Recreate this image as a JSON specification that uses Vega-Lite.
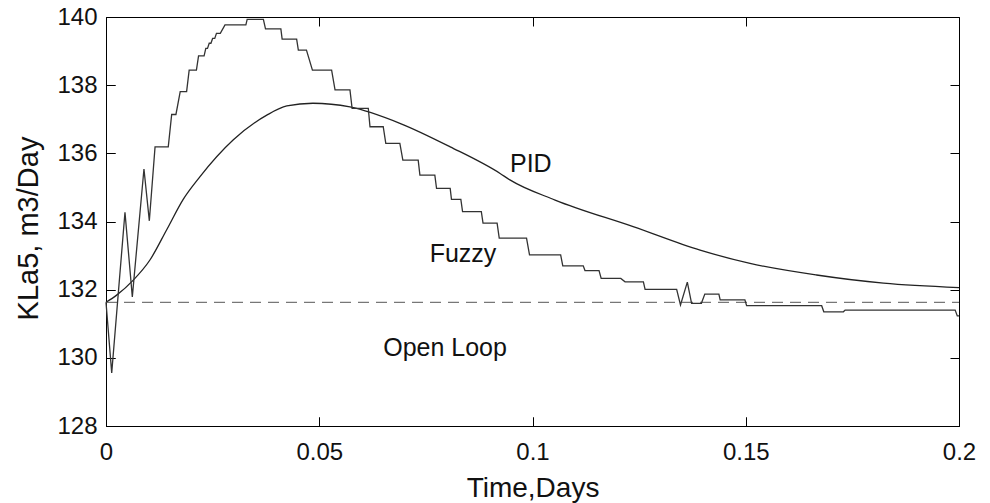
{
  "$schema": "https://vega.github.io/schema/vega-lite/v6.json",
  "width": 853,
  "height": 409,
  "autosize": {"type": "none"},
  "padding": {"left": 106, "top": 17, "right": 31, "bottom": 77},
  "background": "white",
  "config": {
    "view": {"stroke": "black", "strokeWidth": 1},
    "font": "Liberation Sans",
    "axis": {
      "grid": false,
      "domain": false,
      "labelFlush": false,
      "labelFont": "Liberation Sans",
      "labelFontSize": 24,
      "labelColor": "#111",
      "titleFont": "Liberation Sans",
      "titleFontWeight": "normal",
      "titleColor": "#111"
    }
  },
  "data": {
    "values": [
      {"series": "PID", "t": 0, "v": 131.63},
      {"series": "PID", "t": 0.0025, "v": 131.84},
      {"series": "PID", "t": 0.0064, "v": 132.28},
      {"series": "PID", "t": 0.0103, "v": 132.87},
      {"series": "PID", "t": 0.0142, "v": 133.75},
      {"series": "PID", "t": 0.0181, "v": 134.65},
      {"series": "PID", "t": 0.022, "v": 135.31},
      {"series": "PID", "t": 0.0298, "v": 136.39},
      {"series": "PID", "t": 0.0377, "v": 137.12},
      {"series": "PID", "t": 0.0424, "v": 137.39},
      {"series": "PID", "t": 0.0485, "v": 137.47},
      {"series": "PID", "t": 0.0572, "v": 137.36},
      {"series": "PID", "t": 0.0689, "v": 136.88},
      {"series": "PID", "t": 0.0807, "v": 136.19},
      {"series": "PID", "t": 0.0924, "v": 135.41},
      {"series": "PID", "t": 0.0947, "v": 135.22},
      {"series": "PID", "t": 0.1053, "v": 134.63},
      {"series": "PID", "t": 0.1236, "v": 133.85},
      {"series": "PID", "t": 0.1393, "v": 133.16},
      {"series": "PID", "t": 0.151, "v": 132.77},
      {"series": "PID", "t": 0.1666, "v": 132.43},
      {"series": "PID", "t": 0.1823, "v": 132.19},
      {"series": "PID", "t": 0.2, "v": 132.06},
      {"series": "Open Loop", "t": 0, "v": 131.63},
      {"series": "Open Loop", "t": 0.2, "v": 131.63},
      {"series": "Fuzzy", "t": 0, "v": 131.63},
      {"series": "Fuzzy", "t": 0.00134, "v": 129.56},
      {"series": "Fuzzy", "t": 0.00445, "v": 134.27},
      {"series": "Fuzzy", "t": 0.00617, "v": 131.79},
      {"series": "Fuzzy", "t": 0.0089, "v": 135.54},
      {"series": "Fuzzy", "t": 0.01016, "v": 134.02},
      {"series": "Fuzzy", "t": 0.0115, "v": 136.19},
      {"series": "Fuzzy", "t": 0.0146, "v": 136.19},
      {"series": "Fuzzy", "t": 0.0154, "v": 137.14},
      {"series": "Fuzzy", "t": 0.0164, "v": 137.14},
      {"series": "Fuzzy", "t": 0.0174, "v": 137.81},
      {"series": "Fuzzy", "t": 0.0189, "v": 137.81},
      {"series": "Fuzzy", "t": 0.0195, "v": 138.44},
      {"series": "Fuzzy", "t": 0.0212, "v": 138.44},
      {"series": "Fuzzy", "t": 0.0217, "v": 138.86},
      {"series": "Fuzzy", "t": 0.023, "v": 138.86},
      {"series": "Fuzzy", "t": 0.0234, "v": 139.08},
      {"series": "Fuzzy", "t": 0.0238, "v": 139.08},
      {"series": "Fuzzy", "t": 0.0242, "v": 139.23},
      {"series": "Fuzzy", "t": 0.0246, "v": 139.23},
      {"series": "Fuzzy", "t": 0.025, "v": 139.37},
      {"series": "Fuzzy", "t": 0.0255, "v": 139.37},
      {"series": "Fuzzy", "t": 0.0259, "v": 139.52},
      {"series": "Fuzzy", "t": 0.0268, "v": 139.52},
      {"series": "Fuzzy", "t": 0.0279, "v": 139.77},
      {"series": "Fuzzy", "t": 0.0328, "v": 139.77},
      {"series": "Fuzzy", "t": 0.0331, "v": 139.93},
      {"series": "Fuzzy", "t": 0.0369, "v": 139.93},
      {"series": "Fuzzy", "t": 0.0374, "v": 139.65},
      {"series": "Fuzzy", "t": 0.041, "v": 139.65},
      {"series": "Fuzzy", "t": 0.0413, "v": 139.35},
      {"series": "Fuzzy", "t": 0.0447, "v": 139.35},
      {"series": "Fuzzy", "t": 0.0451, "v": 139.03},
      {"series": "Fuzzy", "t": 0.047, "v": 139.03},
      {"series": "Fuzzy", "t": 0.0484, "v": 138.44},
      {"series": "Fuzzy", "t": 0.0529, "v": 138.44},
      {"series": "Fuzzy", "t": 0.0537, "v": 137.86},
      {"series": "Fuzzy", "t": 0.0572, "v": 137.86},
      {"series": "Fuzzy", "t": 0.0577, "v": 137.32},
      {"series": "Fuzzy", "t": 0.0615, "v": 137.32},
      {"series": "Fuzzy", "t": 0.0619, "v": 136.78},
      {"series": "Fuzzy", "t": 0.065, "v": 136.78},
      {"series": "Fuzzy", "t": 0.0656, "v": 136.29},
      {"series": "Fuzzy", "t": 0.0689, "v": 136.29},
      {"series": "Fuzzy", "t": 0.0696, "v": 135.8},
      {"series": "Fuzzy", "t": 0.0732, "v": 135.8},
      {"series": "Fuzzy", "t": 0.0736, "v": 135.36},
      {"series": "Fuzzy", "t": 0.0771, "v": 135.36},
      {"series": "Fuzzy", "t": 0.0775, "v": 134.97},
      {"series": "Fuzzy", "t": 0.0807, "v": 134.97},
      {"series": "Fuzzy", "t": 0.081, "v": 134.65},
      {"series": "Fuzzy", "t": 0.0832, "v": 134.65},
      {"series": "Fuzzy", "t": 0.0836, "v": 134.29},
      {"series": "Fuzzy", "t": 0.088, "v": 134.29},
      {"series": "Fuzzy", "t": 0.0884, "v": 133.95},
      {"series": "Fuzzy", "t": 0.0917, "v": 133.95},
      {"series": "Fuzzy", "t": 0.0922, "v": 133.51},
      {"series": "Fuzzy", "t": 0.0986, "v": 133.51},
      {"series": "Fuzzy", "t": 0.0993, "v": 133.02},
      {"series": "Fuzzy", "t": 0.1066, "v": 133.02},
      {"series": "Fuzzy", "t": 0.1071, "v": 132.7},
      {"series": "Fuzzy", "t": 0.1119, "v": 132.7},
      {"series": "Fuzzy", "t": 0.1123, "v": 132.56},
      {"series": "Fuzzy", "t": 0.1156, "v": 132.56},
      {"series": "Fuzzy", "t": 0.1161, "v": 132.33},
      {"series": "Fuzzy", "t": 0.1207, "v": 132.33},
      {"series": "Fuzzy", "t": 0.1217, "v": 132.23},
      {"series": "Fuzzy", "t": 0.126, "v": 132.23},
      {"series": "Fuzzy", "t": 0.1264, "v": 132.01},
      {"series": "Fuzzy", "t": 0.1338, "v": 132.01},
      {"series": "Fuzzy", "t": 0.1347, "v": 131.55},
      {"series": "Fuzzy", "t": 0.1363, "v": 132.22},
      {"series": "Fuzzy", "t": 0.1373, "v": 131.6},
      {"series": "Fuzzy", "t": 0.1396, "v": 131.6},
      {"series": "Fuzzy", "t": 0.1404, "v": 131.87},
      {"series": "Fuzzy", "t": 0.1437, "v": 131.87},
      {"series": "Fuzzy", "t": 0.144, "v": 131.7},
      {"series": "Fuzzy", "t": 0.1498, "v": 131.7},
      {"series": "Fuzzy", "t": 0.1502, "v": 131.53},
      {"series": "Fuzzy", "t": 0.1678, "v": 131.53},
      {"series": "Fuzzy", "t": 0.1683, "v": 131.35},
      {"series": "Fuzzy", "t": 0.1729, "v": 131.35},
      {"series": "Fuzzy", "t": 0.1733, "v": 131.4},
      {"series": "Fuzzy", "t": 0.1991, "v": 131.4},
      {"series": "Fuzzy", "t": 0.1996, "v": 131.23},
      {"series": "Fuzzy", "t": 0.2, "v": 131.23}
    ]
  },
  "layer": [
    {
      "transform": [{"filter": "datum.series === 'Open Loop'"}],
      "mark": {"type": "line", "color": "#777", "strokeWidth": 1.2, "strokeDash": [11, 7]},
      "encoding": {
        "x": {"field": "t", "type": "quantitative", "scale": {"domain": [0, 0.2], "nice": false, "zero": false},
          "axis": {"orient": "top", "labels": false, "title": null, "values": [0, 0.05, 0.1, 0.15, 0.2], "ticks": true, "tickSize": 9, "tickColor": "black", "tickWidth": 1, "offset": -9}},
        "y": {"field": "v", "type": "quantitative", "scale": {"domain": [128, 140], "nice": false, "zero": false},
          "axis": {"orient": "right", "labels": false, "title": null, "values": [128, 130, 132, 134, 136, 138, 140], "ticks": true, "tickSize": 9, "tickColor": "black", "tickWidth": 1, "offset": -9}}
      }
    },
    {
      "transform": [{"filter": "datum.series === 'PID'"}],
      "mark": {"type": "line", "color": "#222", "strokeWidth": 1.3, "interpolate": "monotone"},
      "encoding": {
        "x": {"field": "t", "type": "quantitative",
          "axis": {"orient": "bottom", "title": "Time,Days", "values": [0, 0.05, 0.1, 0.15, 0.2], "format": "~g", "ticks": false, "labelPadding": 14, "titlePadding": 10, "titleFontSize": 28}},
        "y": {"field": "v", "type": "quantitative",
          "axis": {"orient": "left", "title": "KLa5, m3/Day", "values": [128, 130, 132, 134, 136, 138, 140], "format": "d", "ticks": false, "labelPadding": 9, "titlePadding": 13, "titleFontSize": 29, "titleY": 211}}
      }
    },
    {
      "transform": [{"filter": "datum.series === 'Fuzzy'"}],
      "mark": {"type": "line", "color": "#333", "strokeWidth": 1.3},
      "encoding": {
        "x": {"field": "t", "type": "quantitative",
          "axis": {"orient": "top", "labels": false, "title": null, "values": [0, 0.05, 0.1, 0.15, 0.2], "ticks": true, "tickSize": 9, "tickColor": "black", "tickWidth": 1, "offset": -409}},
        "y": {"field": "v", "type": "quantitative",
          "axis": {"orient": "right", "labels": false, "title": null, "values": [128, 130, 132, 134, 136, 138, 140], "ticks": true, "tickSize": 9, "tickColor": "black", "tickWidth": 1, "offset": -853}}
      }
    },
    {
      "data": {"values": [
        {"label": "PID", "t": 0.0996, "v": 135.45},
        {"label": "Fuzzy", "t": 0.0837, "v": 132.81},
        {"label": "Open Loop", "t": 0.0795, "v": 130.05}
      ]},
      "mark": {"type": "text", "align": "center", "baseline": "alphabetic", "fontSize": 25, "font": "Liberation Sans", "color": "#111"},
      "encoding": {
        "x": {"field": "t", "type": "quantitative",
          "axis": {"orient": "bottom", "labels": false, "title": null, "values": [0, 0.05, 0.1, 0.15, 0.2], "ticks": true, "tickSize": 9, "tickColor": "black", "tickWidth": 1, "offset": -9}},
        "y": {"field": "v", "type": "quantitative",
          "axis": {"orient": "left", "labels": false, "title": null, "values": [128, 130, 132, 134, 136, 138, 140], "ticks": true, "tickSize": 9, "tickColor": "black", "tickWidth": 1, "offset": -9}},
        "text": {"field": "label"}
      }
    }
  ],
  "resolve": {"axis": {"x": "independent", "y": "independent"}}
}
